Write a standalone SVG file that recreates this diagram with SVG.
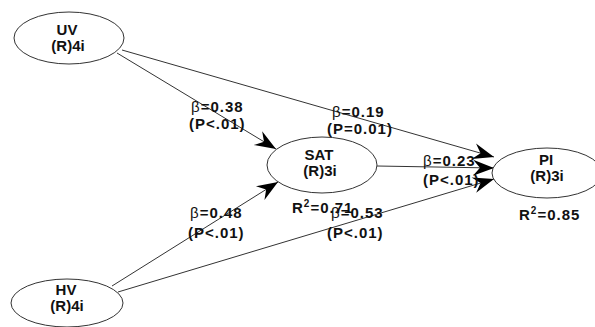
<svg xmlns="http://www.w3.org/2000/svg" width="595" height="327" viewBox="0 0 595 327">
<style>
.node ellipse{fill:#fff;stroke:#333;stroke-width:1}
.nt{font-family:"Liberation Sans",Arial,sans-serif;font-weight:bold;font-size:15px;fill:#111;text-anchor:middle}
.lb{font-family:"Liberation Sans",Arial,sans-serif;font-weight:bold;font-size:15px;fill:#111;letter-spacing:1px}
.b{font-weight:normal}
.edges line{stroke:#333;stroke-width:1}
</style>
<defs>
<marker id="ah" markerUnits="userSpaceOnUse" markerWidth="24" markerHeight="18" viewBox="-22 -9 24 18" refX="0" refY="0" orient="auto">
<path d="M0,0 L-21,-8 L-14,0 L-21,8 Z" fill="#000"/>
</marker>
</defs>
<rect width="595" height="327" fill="#fff"/>
<g class="edges">
<line x1="117" y1="53" x2="276" y2="149" marker-end="url(#ah)"/>
<line x1="122" y1="50" x2="494" y2="157" marker-end="url(#ah)"/>
<line x1="377" y1="166" x2="494" y2="168" marker-end="url(#ah)"/>
<line x1="112" y1="286" x2="278" y2="182" marker-end="url(#ah)"/>
<line x1="118" y1="292" x2="494" y2="179" marker-end="url(#ah)"/>
</g>
<g id="UV" class="node">
<ellipse cx="69" cy="38" rx="55" ry="26"/>
<text class="nt" x="67" y="35">UV</text>
<text class="nt" x="68" y="51">(R)4i</text>
</g>
<g id="HV" class="node">
<ellipse cx="67" cy="303" rx="56" ry="24"/>
<text class="nt" x="66" y="295">HV</text>
<text class="nt" x="67" y="311">(R)4i</text>
</g>
<g id="SAT" class="node">
<ellipse cx="322" cy="165" rx="55" ry="28"/>
<text class="nt" x="319" y="160">SAT</text>
<text class="nt" x="320" y="176">(R)3i</text>
<text class="lb" x="292" y="213">R<tspan font-size="10" dy="-6">2</tspan><tspan dy="6">=0.71</tspan></text>
</g>
<g id="PI" class="node">
<ellipse cx="547" cy="173" rx="55" ry="25"/>
<text class="nt" x="546" y="165">PI</text>
<text class="nt" x="547" y="181">(R)3i</text>
<text class="lb" x="519" y="220">R<tspan font-size="10" dy="-6">2</tspan><tspan dy="6">=0.85</tspan></text>
</g>
<g id="labels">
<text class="lb" x="191" y="112"><tspan class="b">β</tspan>=0.38</text>
<text class="lb" x="189" y="129">(P&lt;.01)</text>
<text class="lb" x="332" y="117"><tspan class="b">β</tspan>=0.19</text>
<text class="lb" x="327" y="134">(P=0.01)</text>
<text class="lb" x="423" y="166"><tspan class="b">β</tspan>=0.23</text>
<text class="lb" x="423" y="185">(P&lt;.01)</text>
<text class="lb" x="190" y="218"><tspan class="b">β</tspan>=0.48</text>
<text class="lb" x="188" y="238">(P&lt;.01)</text>
<text class="lb" x="331" y="218"><tspan class="b">β</tspan>=0.53</text>
<text class="lb" x="327" y="238">(P&lt;.01)</text>
</g>
</svg>
